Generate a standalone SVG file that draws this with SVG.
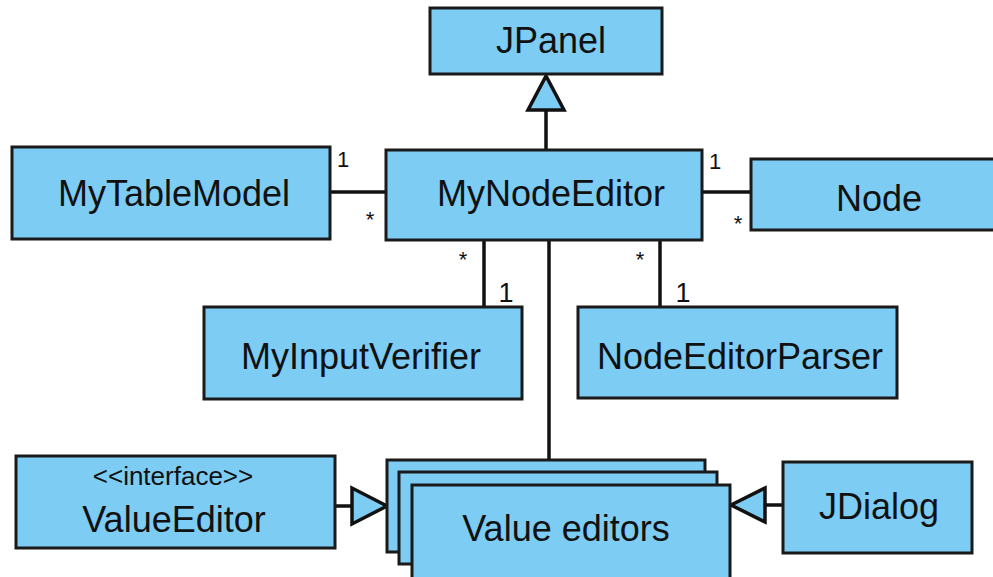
<svg xmlns="http://www.w3.org/2000/svg" width="993" height="577" viewBox="0 0 993 577">
<style>
.box{fill:#7dccf4;stroke:#1a1a1a;stroke-width:3}
.t{font-family:"Liberation Sans",Arial,sans-serif;font-size:36px;fill:#111;text-anchor:middle}
.st{font-family:"Liberation Sans",Arial,sans-serif;font-size:26px;fill:#111;text-anchor:middle}
.m{font-family:"Liberation Sans",Arial,sans-serif;font-size:22px;fill:#111;text-anchor:middle}
.mb{font-family:"Liberation Sans",Arial,sans-serif;font-size:27px;fill:#111;text-anchor:middle}
.ln{stroke:#111;stroke-width:3.5;fill:none}
.tri{fill:#7dccf4;stroke:#111;stroke-width:3.5;stroke-linejoin:miter}
</style>
<rect width="993" height="577" fill="#ffffff"/>
<g id="connectors">
<line class="ln" x1="546" y1="110" x2="546" y2="150"/>
<polygon class="tri" points="546,76 528,110 564,110"/>
<line class="ln" x1="330" y1="192" x2="386" y2="192"/>
<line class="ln" x1="702" y1="192" x2="751" y2="192"/>
<line class="ln" x1="484" y1="240" x2="484" y2="307"/>
<line class="ln" x1="660" y1="240" x2="660" y2="307"/>
<line class="ln" x1="549" y1="240" x2="549" y2="460"/>
<line class="ln" x1="335" y1="506" x2="352" y2="506"/>
<polygon class="tri" points="387,506 352,488 352,524"/>
<line class="ln" x1="765" y1="505" x2="783" y2="505"/>
<polygon class="tri" points="731,505 765,488 765,522"/>
<text class="m" x="343" y="167">1</text>
<text class="m" x="370" y="227">*</text>
<text class="m" x="715" y="169">1</text>
<text class="m" x="738" y="231">*</text>
<text class="m" x="463" y="267">*</text>
<text class="mb" x="506" y="302">1</text>
<text class="m" x="640" y="267">*</text>
<text class="mb" x="683" y="302">1</text>
</g>
<g id="JPanel">
<rect class="box" x="430" y="8" width="232" height="66"/>
<text class="t" x="551" y="53">JPanel</text>
</g>
<g id="MyNodeEditor">
<rect class="box" x="386" y="150" width="316" height="90"/>
<text class="t" x="551" y="206">MyNodeEditor</text>
</g>
<g id="MyTableModel">
<rect class="box" x="12" y="147" width="318" height="92"/>
<text class="t" x="174" y="206">MyTableModel</text>
</g>
<g id="Node">
<rect class="box" x="751" y="159" width="260" height="71"/>
<text class="t" x="879" y="211">Node</text>
</g>
<g id="MyInputVerifier">
<rect class="box" x="204" y="307" width="318" height="92"/>
<text class="t" x="361" y="369">MyInputVerifier</text>
</g>
<g id="NodeEditorParser">
<rect class="box" x="578" y="307" width="319" height="91"/>
<text class="t" x="740" y="369">NodeEditorParser</text>
</g>
<g id="ValueEditor">
<rect class="box" x="16" y="456" width="319" height="92"/>
<text class="st" x="173" y="485">&lt;&lt;interface&gt;&gt;</text>
<text class="t" x="174" y="532">ValueEditor</text>
</g>
<g id="ValueEditors">
<rect class="box" x="387" y="460" width="318" height="92"/>
<rect class="box" x="399" y="472" width="318" height="92"/>
<rect class="box" x="412" y="485" width="318" height="100"/>
<text class="t" x="566" y="541">Value editors</text>
</g>
<g id="JDialog">
<rect class="box" x="783" y="462" width="189" height="91"/>
<text class="t" x="879" y="519">JDialog</text>
</g>
</svg>
